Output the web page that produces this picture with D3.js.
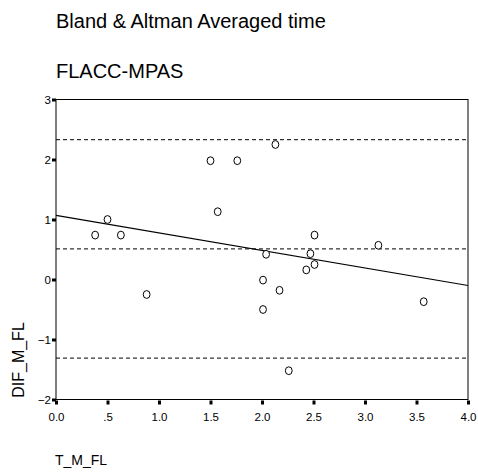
<!DOCTYPE html>
<html>
<head>
<meta charset="utf-8">
<script src="https://cdn.jsdelivr.net/npm/d3@7"></script>
<style>
body { margin: 0; background: #fff; }
text { font-family: "Liberation Sans", Arial, sans-serif; fill: #000; }
</style>
</head>
<body>
<script>
var width = 478;
var height = 473;

// averaged time (x) and difference (y) per subject
var avgTime = [0.38, 0.50, 0.63, 0.88, 1.50, 1.76, 2.13, 1.57, 2.51, 2.04, 2.47, 3.13, 2.51, 2.43, 2.01, 2.17, 2.01, 3.57, 2.26];
var diffs = [0.74, 1.00, 0.74, -0.25, 1.98, 1.98, 2.25, 1.13, 0.74, 0.42, 0.43, 0.57, 0.25, 0.16, -0.01, -0.18, -0.50, -0.37, -1.52];

// mean and +/- limits of agreement
var limits = [2.33, 0.51, -1.31];

// fitted line read at x = 0 and x = 4
var fitX = [0, 4];
var fitY = [1.07, -0.10];

var xTicks = [0, 0.5, 1, 1.5, 2, 2.5, 3, 3.5, 4];
var xTickLabels = ["0.0", ".5", "1.0", "1.5", "2.0", "2.5", "3.0", "3.5", "4.0"];
var yTicks = [-2, -1, 0, 1, 2, 3];

var plotLeft = 56, plotRight = 468, plotTop = 99.5, plotBottom = 399.5;

var svg = d3.select("body").append("svg")
    .attr("width", width)
    .attr("height", height);

var xScale = d3.scaleLinear().domain([0, 4]).range([plotLeft, plotRight]);
var yScale = d3.scaleLinear().domain([-2, 3]).range([plotBottom, plotTop]);

// titles
svg.append("text").attr("x", 56).attr("y", 28)
    .style("font-size", "20px")
    .text("Bland & Altman Averaged time");
svg.append("text").attr("x", 56).attr("y", 78)
    .style("font-size", "20px")
    .text("FLACC-MPAS");

// frame
svg.append("rect")
    .attr("x", plotLeft).attr("y", plotTop)
    .attr("width", plotRight - plotLeft).attr("height", plotBottom - plotTop)
    .attr("fill", "none").attr("stroke", "#000").attr("stroke-width", 1);

// axes
var xAxis = d3.axisBottom(xScale).tickValues(xTicks)
    .tickFormat(function (d, i) { return xTickLabels[i]; })
    .tickSize(4).tickPadding(8);
var gx = svg.append("g").attr("transform", "translate(0," + (plotBottom + 1) + ")").call(xAxis);
gx.select(".domain").remove();
gx.selectAll(".tick line").attr("stroke", "#000").attr("stroke-width", 3);
gx.selectAll(".tick text").style("font-size", "11.5px").style("font-family", "Liberation Sans, Arial, sans-serif");

var yAxis = d3.axisLeft(yScale).tickValues(yTicks).tickFormat(d3.format("d"))
    .tickSize(4).tickPadding(1);
var gy = svg.append("g").attr("transform", "translate(" + plotLeft + ",0)").call(yAxis);
gy.select(".domain").remove();
gy.selectAll(".tick line").attr("stroke", "#000").attr("stroke-width", 3);
gy.selectAll(".tick text").style("font-size", "11.5px").style("font-family", "Liberation Sans, Arial, sans-serif");

// axis titles
svg.append("text").attr("x", 55).attr("y", 465)
    .style("font-size", "14px").text("T_M_FL");
svg.append("text")
    .attr("transform", "translate(24,360) rotate(-90)")
    .attr("text-anchor", "middle")
    .style("font-size", "16px").text("DIF_M_FL");

// limit lines
svg.selectAll("line.limit")
    .data(limits)
    .enter().append("line")
    .attr("class", "limit")
    .attr("x1", plotLeft).attr("x2", plotRight)
    .attr("y1", d => yScale(d)).attr("y2", d => yScale(d))
    .attr("stroke", "#000").attr("stroke-width", 1)
    .attr("stroke-dasharray", "4,3");

// fit line
var fitData = fitX.map(function (x, i) { return { x: x, y: fitY[i] }; });
var line = d3.line().x(d => xScale(d.x)).y(d => yScale(d.y));
svg.append("path")
    .datum(fitData)
    .attr("fill", "none")
    .attr("stroke", "#000")
    .attr("stroke-width", 1.2)
    .attr("d", line);

// points
var points = avgTime.map(function (a, i) { return { x: a, y: diffs[i] }; });
svg.selectAll("ellipse")
    .data(points)
    .enter().append("ellipse")
    .attr("cx", d => xScale(d.x))
    .attr("cy", d => yScale(d.y))
    .attr("rx", 3.4)
    .attr("ry", 3.9)
    .attr("fill", "#fff")
    .attr("stroke", "#000")
    .attr("stroke-width", 1);
</script>
</body>
</html>
